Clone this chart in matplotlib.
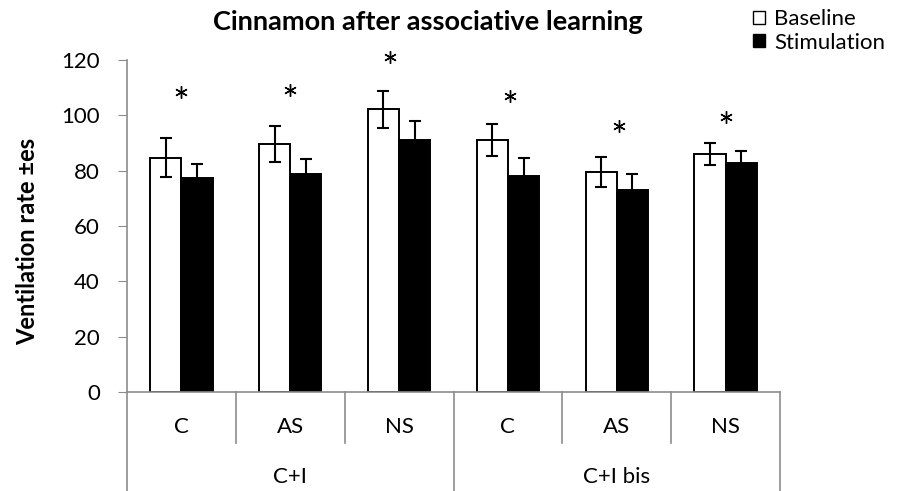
import numpy as np
import matplotlib
matplotlib.use("Agg")
import matplotlib.pyplot as plt
from matplotlib.patches import Patch

plt.rcParams['font.family'] = ['Lato', 'DejaVu Sans']

# data
categories = ["C", "AS", "NS", "C", "AS", "NS"]
groups = ["C+I", "C+I bis"]
baseline = [84.7, 89.6, 102.2, 91.1, 79.4, 86.1]
baseline_err = [7.1, 6.4, 6.7, 5.7, 5.4, 4.0]
stimulation = [77.2, 78.9, 91.2, 78.2, 72.9, 82.8]
stimulation_err = [5.3, 5.3, 6.6, 6.4, 5.8, 4.2]
star_y = [108.6, 109.2, 121.0, 107.0, 96.2, 99.3]

gray = "#8c8c8c"
x = np.arange(len(categories))
w = 0.287

fig = plt.figure(figsize=(9.01, 4.91), dpi=100)
ax = fig.add_axes([127 / 901, 1 - 392 / 491, 653 / 901, 332 / 491])

ax.bar(x - w / 2, baseline, w, color="white", edgecolor="black", linewidth=1.4, zorder=2)
ax.bar(x + w / 2, stimulation, w, color="black", edgecolor="black", linewidth=1.4, zorder=2)
ax.errorbar(x - w / 2, baseline, yerr=baseline_err, fmt="none", ecolor="black",
            elinewidth=1.5, capsize=4.5, capthick=1.5, zorder=3)
ax.errorbar(x + w / 2, stimulation, yerr=stimulation_err, fmt="none", ecolor="black",
            elinewidth=1.5, capsize=4.5, capthick=1.5, zorder=3)

# significance stars (6-armed asterisk marker)
star_dx = [0, 0, -0.08, 0.02, 0.02, 0]
ax.plot(x + np.array(star_dx), star_y, linestyle="none", marker=(6, 2, 0),
        markersize=9, markeredgewidth=1.0, color="black", clip_on=False, zorder=3)

ax.set_xlim(-0.5, len(categories) - 0.5)
ax.set_ylim(0, 120)
ax.set_yticks(range(0, 121, 20))
ax.tick_params(axis="y", length=6.5, color=gray, labelsize=16, pad=13)
ax.set_xticks([])
for s in ["top", "right"]:
    ax.spines[s].set_visible(False)
for s in ["left", "bottom"]:
    ax.spines[s].set_color(gray)
    ax.spines[s].set_linewidth(1.2)

# two-level category axis
tr = ax.get_xaxis_transform()
px = 1 / 332
for b in [0.5, 1.5, 3.5, 4.5]:
    ax.plot([b, b], [0, -51 * px], color=gray, lw=1.2, transform=tr, clip_on=False)
for b in [-0.5, 2.5, 5.5]:
    ax.plot([b, b], [0, -99 * px], color=gray, lw=1.2, transform=tr, clip_on=False)
for xi, c in zip(x, categories):
    ax.text(xi, -35 * px, c, ha="center", va="center", fontsize=16, transform=tr)
for gi, g in enumerate(groups):
    ax.text(gi * 3 + 1, -85 * px, g, ha="center", va="center", fontsize=16, transform=tr)

ax.set_ylabel("Ventilation rate \u00b1es", fontsize=17, fontweight="bold", va="center")
ax.yaxis.set_label_coords(-99 / 653, 0.455)
fig.text(427.5 / 901, 1 - 22 / 491, "Cinnamon after associative learning",
         ha="center", va="center", fontsize=19.5, fontweight="bold")

handles = [Patch(facecolor="white", edgecolor="black", linewidth=1.0),
           Patch(facecolor="black", edgecolor="black", linewidth=1.0)]
fig.legend(handles, ["Baseline", "Stimulation"], loc="upper left",
           bbox_to_anchor=(751 / 901, 1 - 7 / 491), frameon=False, fontsize=16,
           handlelength=0.55, handleheight=0.55, handletextpad=0.4, labelspacing=0.15,
           borderaxespad=0, borderpad=0.1)

fig.savefig("out.png", dpi=100)
